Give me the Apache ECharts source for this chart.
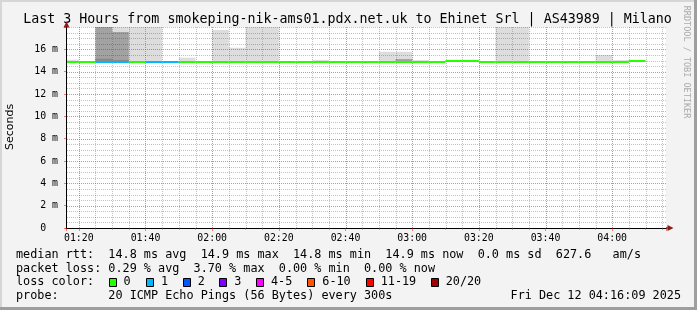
<!DOCTYPE html>
<html><head><meta charset="utf-8">
<script src="https://cdn.jsdelivr.net/npm/echarts@6/dist/echarts.min.js"></script>
<style>html,body{margin:0;padding:0;background:#f3f3f3}#c{width:697px;height:310px}</style>
</head><body><div id="c"></div>
<script>
// ---- data (5-minute bins, bin start times) ----
const binStarts = ['01:15','01:20','01:25','01:30','01:35','01:40','01:45','01:50','01:55',
  '02:00','02:05','02:10','02:15','02:20','02:25','02:30','02:35','02:40','02:45','02:50','02:55',
  '03:00','03:05','03:10','03:15','03:20','03:25','03:30','03:35','03:40','03:45','03:50','03:55',
  '04:00','04:05'];
// median rtt (ms)
const median = [14.85,14.85,14.85,14.85,14.85,14.85,14.85,14.85,14.85,
  14.85,14.85,14.85,14.85,14.85,14.85,14.85,14.85,14.85,14.85,14.85,14.85,
  14.85,14.85,14.95,14.95,14.85,14.85,14.85,14.85,14.85,14.85,14.85,14.85,
  14.85,14.95];
// lost pings per bin (of 20)
const lossCount = [0,0,1,1,0,1,1,0,0, 0,0,0,0,0,0,0,0,0,0,0,0, 0,0,0,0,0,0,0,0,0,0,0,0, 0,0];
// smoke: highest ping (outer light band)
const smokeMax = [15.07,null,21.6,19.8,22.4,20.5,null,15.25,null,
  17.73,16.14,23.1,19.4,null,null,15.05,null,null,null,15.78,15.78,
  15.04,null,null,null,null,24.7,20.9,null,null,null,null,15.49,
  15.04,null];
// smoke: inner darker band
const smokeMid = [null,null,19.2,17.55,null,null,null,null,null,
  null,null,null,null,null,null,null,null,null,null,null,15.13,
  null,null,null,null,null,null,null,null,null,null,null,null,
  null,null];
// smoke: innermost darkest band
const smokeCore = [null,null,15.16,15.05,null,null,null,null,null,
  null,null,null,null,null,null,null,null,null,null,null,null,
  null,null,null,null,null,null,null,null,null,null,null,null,
  null,null];
const lossLabels = ['0','1','2','3','4-5','6-10','11-19','20/20'];
const lossColors = ['#26ff00','#00b8ff','#0059ff','#7e00ff','#ff00ff','#ff5500','#ff0000','#a00000'];
const xTickLabels = ['01:20','01:40','02:00','02:20','02:40','03:00','03:20','03:40','04:00'];
const yTickLabels = ['0','2 m','4 m','6 m','8 m','10 m','12 m','14 m','16 m'];
const startTime = '01:16:09', endTime = '04:16:09';
const stepMin = 5;
const yMin = 0, yMax = 18, yMajor = 2, yMinor = 0.5, xMajor = 20, xMinor = 5;

const titleText = 'Last 3 Hours from smokeping-nik-ams01.pdx.net.uk to Ehinet Srl | AS43989 | Milano';
const legendLines = [
  'median rtt:  14.8 ms avg  14.9 ms max  14.8 ms min  14.9 ms now  0.0 ms sd  627.6   am/s',
  'packet loss: 0.29 % avg  3.70 % max  0.00 % min  0.00 % now',
  'loss color:',
  'probe:       20 ICMP Echo Pings (56 Bytes) every 300s'
];
const dateText = 'Fri Dec 12 04:16:09 2025';

// ---- helpers ----
function toMin(s){const p=s.split(':').map(Number);return p[0]*60+p[1]+(p[2]||0)/60;}
function fmt(v){const h=Math.floor(v/60+1e-9),m=Math.round(v-h*60);return String(h).padStart(2,'0')+':'+String(m).padStart(2,'0');}
function lossIdx(n){if(n<=3)return n;if(n<=5)return 4;if(n<=10)return 5;if(n<=19)return 6;return 7;}
const MONO='"DejaVu Sans Mono", monospace';
const xMin=toMin(startTime), xMax=toMin(endTime);

function layerData(tops){
  const out=[];
  binStarts.forEach((t,i)=>{ if(tops[i]!=null) out.push([toMin(t), median[i], tops[i]]); });
  return out;
}
function smokeRender(params, api){
  const x0=api.value(0), lo=api.value(1), hi=api.value(2);
  const a=api.coord([x0,hi]), b=api.coord([x0+stepMin,lo]);
  const cs=params.coordSys;
  const r=echarts.graphic.clipRectByRect({x:a[0],y:a[1],width:b[0]-a[0],height:b[1]-a[1]},{x:cs.x,y:cs.y,width:cs.width,height:cs.height});
  if(!r) return null;
  return {type:'rect',shape:r,style:{fill:api.visual('color')}};
}
function medianRender(params, api){
  const x0=api.value(0), m=api.value(1), n=api.value(2);
  const a=api.coord([x0,m]), b=api.coord([x0+stepMin,m]);
  const cs=params.coordSys;
  const y=Math.round(a[1])-1;
  const r=echarts.graphic.clipRectByRect({x:a[0],y:y,width:b[0]-a[0],height:2},{x:cs.x,y:cs.y,width:cs.width,height:cs.height});
  if(!r) return null;
  return {type:'rect',shape:r,style:{fill:lossColors[lossIdx(n)]}};
}
// grid lines (drawn above the smoke like rrdtool): [axis(0=x,1=y), value, major(1/0)]
const gridData=[];
for(let t=Math.ceil(xMin/xMinor)*xMinor;t<xMax;t+=xMinor){
  const major=Math.abs(t/xMajor-Math.round(t/xMajor))<1e-6;
  gridData.push([0,t,major?1:0]);
}
for(let v=yMin+yMinor;v<=yMax+1e-9;v+=yMinor){
  const major=Math.abs(v/yMajor-Math.round(v/yMajor))<1e-6 && v<yMax-1e-9;
  gridData.push([1,v,major?1:0]);
}
function gridRender(params, api){
  const kind=api.value(0), v=api.value(1), major=api.value(2);
  const cs=params.coordSys;
  let shape;
  if(kind===0){
    const p=api.coord([v,yMin]); const x=Math.round(p[0])+0.5;
    if(x<=cs.x+1||x>=cs.x+cs.width) return null;
    shape={x1:x,y1:cs.y,x2:x,y2:cs.y+cs.height};
  } else {
    const p=api.coord([xMin,v]); const y=Math.round(p[1])+0.5;
    if(y>=cs.y+cs.height-1) return null;
    shape={x1:cs.x+1,y1:y,x2:cs.x+cs.width,y2:y};
  }
  return {type:'line',shape:shape,style:{stroke:major?'rgba(255,0,0,0.5)':'rgba(0,0,0,0.24)',lineWidth:1,lineDash:[1,1]}};
}

const chart=echarts.init(document.getElementById('c'),null,{renderer:'canvas'});

const graphics=[];
// frame
graphics.push({type:'rect',shape:{x:0,y:0,width:697,height:2},style:{fill:'#d6d6d6'},silent:true});
graphics.push({type:'rect',shape:{x:0,y:0,width:2,height:310},style:{fill:'#d6d6d6'},silent:true});
graphics.push({type:'rect',shape:{x:0,y:307,width:697,height:3},style:{fill:'#9e9e9e'},silent:true});
graphics.push({type:'rect',shape:{x:694,y:0,width:3,height:310},style:{fill:'#9e9e9e'},silent:true});
// title
graphics.push({type:'text',x:347.5,y:20,style:{text:titleText,font:'13.3px '+MONO,fill:'#000',align:'center',verticalAlign:'middle',textAlign:'center',textVerticalAlign:'middle'}});
// y axis name
graphics.push({type:'text',x:10,y:127,rotation:Math.PI/2,style:{text:'Seconds',font:'11px "DejaVu Sans", sans-serif',fill:'#000',align:'center',verticalAlign:'middle',textAlign:'center',textVerticalAlign:'middle'}});
// watermark
graphics.push({type:'text',x:686,y:62,rotation:-Math.PI/2,style:{text:'RRDTOOL / TOBI OETIKER',font:'8.5px '+MONO,fill:'#aaaaaa',align:'center',verticalAlign:'middle',textAlign:'center',textVerticalAlign:'middle'}});
// axis arrows
graphics.push({type:'polygon',shape:{points:[[63.5,27.5],[69.5,27.5],[66.5,21.5]]},style:{fill:'#8b1a1a'},z:10});
graphics.push({type:'rect',shape:{x:666,y:227.5,width:2,height:1},style:{fill:'#000'},z:10});
graphics.push({type:'polygon',shape:{points:[[667.5,225],[667.5,231],[673.5,228]]},style:{fill:'#8b1a1a'},z:10});
// legend text lines
const lineY=[254.5,268.5,282,296];
legendLines.forEach((t,i)=>{
  graphics.push({type:'text',x:16,y:lineY[i],style:{text:t,font:'11.8px '+MONO,fill:'#000',verticalAlign:'middle',textVerticalAlign:'middle'}});
});
graphics.push({type:'text',x:681,y:lineY[3],style:{text:dateText,font:'11.8px '+MONO,fill:'#000',align:'right',verticalAlign:'middle',textAlign:'right',textVerticalAlign:'middle'}});
// loss colour boxes
const boxX=[108.5,146,182.7,219.3,256,307.3,365.7,430.7];
lossLabels.forEach((lab,i)=>{
  graphics.push({type:'rect',shape:{x:Math.round(boxX[i])+0.5,y:278.5,width:7,height:8},style:{fill:lossColors[i],stroke:'#000',lineWidth:1}});
  graphics.push({type:'text',x:boxX[i]+15,y:lineY[2],style:{text:lab,font:'11.8px '+MONO,fill:'#000',verticalAlign:'middle',textVerticalAlign:'middle'}});
});

const option={
  backgroundColor:'#f3f3f3',
  animation:false,
  grid:{left:66,top:27,width:600,height:201,show:true,backgroundColor:'#ffffff',borderWidth:0},
  xAxis:{
    type:'value', min:xMin, max:xMax, splitNumber:9, minInterval:xMajor, maxInterval:xMajor, z:6,
    axisLine:{show:true,onZero:false,lineStyle:{color:'#000',width:1}},
    axisTick:{show:true,length:3,lineStyle:{color:'rgba(255,0,0,0.5)'}},
    minorTick:{show:true,splitNumber:4,length:2,lineStyle:{color:'rgba(120,120,120,0.5)'}},
    axisLabel:{margin:5,fontFamily:MONO,fontSize:9.9,color:'#000',
      formatter:v=>{const k=v/xMajor;if(Math.abs(k-Math.round(k))>1e-6)return '';const s=fmt(v);return xTickLabels.indexOf(s)>=0?s:'';}},
    splitLine:{show:false},
    minorSplitLine:{show:false}
  },
  yAxis:{
    type:'value', min:yMin, max:yMax, interval:yMajor, z:6,
    axisLine:{show:true,lineStyle:{color:'#000',width:1}},
    axisTick:{show:true,length:2,lineStyle:{color:'rgba(255,0,0,0.5)'}},
    axisLabel:{margin:8,fontFamily:MONO,fontSize:9.9,color:'#000',
      formatter:v=>{const i=Math.round(v/yMajor);return (i===0?'0  ':(yTickLabels[i]||''));}},
    splitLine:{show:false},
    minorSplitLine:{show:false}
  },
  series:[
    {type:'custom',name:'smoke',z:1,renderItem:smokeRender,itemStyle:{color:'#dddddd'},data:layerData(smokeMax),silent:true},
    {type:'custom',name:'smoke2',z:1,renderItem:smokeRender,itemStyle:{color:'#a2a2a2'},data:layerData(smokeMid),silent:true},
    {type:'custom',name:'smoke3',z:1,renderItem:smokeRender,itemStyle:{color:'#888888'},data:layerData(smokeCore),silent:true},
    {type:'custom',name:'grid',z:3,renderItem:gridRender,data:gridData,silent:true,clip:false},
    {type:'custom',name:'median',z:5,renderItem:medianRender,data:binStarts.map((t,i)=>[toMin(t),median[i],lossCount[i]]),silent:true}
  ],
  graphic:{elements:graphics}
};
chart.setOption(option);
</script></body></html>
